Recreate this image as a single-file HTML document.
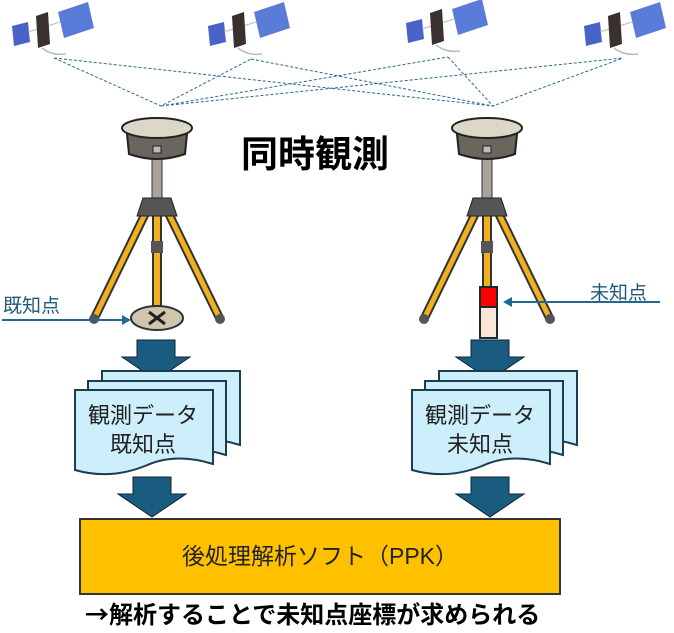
<!DOCTYPE html>
<html><head><meta charset="utf-8"><style>
body{margin:0;background:#fff;width:674px;height:633px;overflow:hidden}
svg{display:block}
text{font-family:"Liberation Sans","Noto Sans CJK JP",sans-serif}
</style></head><body>
<svg width="674" height="633" viewBox="0 0 674 633" xmlns="http://www.w3.org/2000/svg">
<defs>
<g id="sat">
 <polygon points="-30,-4 -14,-8 -12,12 -28,16" fill="#4a63c8"/>
 <polygon points="16,-18 46,-28 52,-2 22,8" fill="#5a7bd8"/>
 <line x1="-14" y1="2" x2="18" y2="-8" stroke="#bbb" stroke-width="1"/>
 <polygon points="-6,-14 6,-18 8,14 -4,18" fill="#3a3030"/>
 <path d="M0 18 Q10 26 24 24" stroke="#bbb" stroke-width="1.5" fill="none"/>
</g>
<g id="tri">
 <path d="M-8 80 L-63 193" stroke="#333" stroke-width="9" stroke-linecap="round"/>
 <path d="M-8 80 L-63 193" stroke="#f0b020" stroke-width="5"/>
 <path d="M8 80 L63 193" stroke="#333" stroke-width="9" stroke-linecap="round"/>
 <path d="M8 80 L63 193" stroke="#f0b020" stroke-width="5"/>
 <rect x="-4" y="80" width="8" height="100" fill="#f0b020" stroke="#333" stroke-width="2"/>
 <rect x="-6" y="115" width="12" height="12" fill="#555"/>
 <circle cx="-63" cy="193" r="5" fill="#555"/><circle cx="63" cy="193" r="5" fill="#555"/>
 <rect x="-5" y="30" width="10" height="45" fill="#a8a49a" stroke="#333"/>
 <path d="M-20 90 L-14 72 L14 72 L20 90 Z" fill="#555" stroke="#222"/>
 <path d="M-30 8 L-28 28 Q0 38 28 28 L30 8 Z" fill="#6a665e" stroke="#222" stroke-width="2"/>
 <ellipse cx="0" cy="2" rx="35" ry="10" fill="#dcd8c8" stroke="#222" stroke-width="2"/>
 <rect x="-4" y="20" width="8" height="7" fill="#bbb" stroke="#222"/>
</g>
<g id="arr">
 <path d="M-19 0 H19 V17 H34 L0 40 L-34 17 H-19 Z" fill="#1a5c80" stroke="#123" stroke-width="1"/>
</g>
<g id="page">
 <path d="M0 0 H138 V74 Q100 62 70 76 Q35 90 0 80 Z" fill="#cdeefb" stroke="#1c3c50" stroke-width="2"/>
</g>
</defs>
<use href="#sat" x="42" y="30"/>
<use href="#sat" x="238" y="30"/>
<use href="#sat" x="436" y="27"/>
<use href="#sat" x="614" y="30"/>
<g stroke="#2a6a8a" stroke-width="1" stroke-dasharray="3,2" fill="none">
 <path d="M54 58 L161 106 L251 59 M54 58 L493 106 L448 57 M251 59 L493 106 L623 58 M161 106 L448 57 M161 106 L623 58"/>
</g>
<use href="#tri" x="157" y="126"/>
<use href="#tri" x="487" y="126"/>
<ellipse cx="157" cy="318" rx="26" ry="12" fill="#cfc6ae" stroke="#333" stroke-width="2"/>
<path d="M149 312 L165 324 M165 312 L149 324" stroke="#222" stroke-width="3"/>
<rect x="480" y="287" width="17" height="51" fill="#fbe4d8" stroke="#1a2a30" stroke-width="2"/>
<rect x="480" y="287" width="17" height="20" fill="#f00" stroke="#1a2a30" stroke-width="2"/>
<text x="3" y="312" font-size="19" fill="#1e5a78">既知点</text>
<path d="M2 320 H124" stroke="#1e6a90" stroke-width="2"/><path d="M131 320 L122 315 L122 325 Z" fill="#1e6a90"/>
<text x="590" y="299" font-size="19" fill="#1e5a78">未知点</text>
<path d="M660 302 H510" stroke="#1e6a90" stroke-width="2"/><path d="M503 302 L512 297 L512 307 Z" fill="#1e6a90"/>
<text x="241" y="167" font-size="37" font-weight="bold" fill="#000">同時観測</text>
<use href="#arr" x="156" y="340"/>
<use href="#arr" x="490" y="340"/>
<use href="#page" x="102" y="371"/>
<use href="#page" x="88" y="381"/>
<use href="#page" x="75" y="390"/>
<use href="#page" x="439" y="371"/>
<use href="#page" x="425" y="381"/>
<use href="#page" x="412" y="390"/>
<text x="143" y="423" font-size="22" text-anchor="middle" fill="#222">観測データ</text>
<text x="143" y="452" font-size="22" text-anchor="middle" fill="#222">既知点</text>
<text x="480" y="423" font-size="22" text-anchor="middle" fill="#222">観測データ</text>
<text x="480" y="452" font-size="22" text-anchor="middle" fill="#222">未知点</text>
<use href="#arr" x="152" y="477"/>
<use href="#arr" x="490" y="477"/>
<rect x="80" y="519" width="480" height="75" fill="#ffc000" stroke="#333" stroke-width="2"/>
<text x="320" y="564" font-size="23" text-anchor="middle" fill="#222">後処理解析ソフト（PPK）</text>
<text x="85" y="623" font-size="24" font-weight="bold" fill="#000"><tspan font-family="Noto Sans CJK JP">→</tspan>解析することで未知点座標が求められる</text>
</svg>
</body></html>
